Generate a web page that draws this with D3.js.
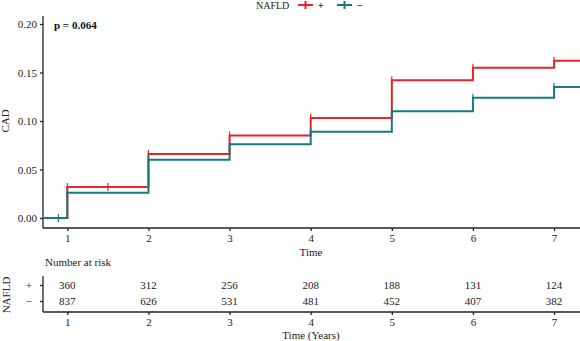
<!DOCTYPE html>
<html>
<head>
<meta charset="utf-8">
<title>CAD cumulative incidence</title>
<style>
	body { margin: 0; background: #fff; }
	svg { display: block; font-family: "Liberation Serif", "DejaVu Serif", serif; }
</style>
</head>
<body>
<svg id="chart" width="580" height="341"></svg>
<script src="https://cdn.jsdelivr.net/npm/d3@7"></script>
<script>
// step curves: time of each step and cumulative incidence after it
const timesPos = [0.7, 1, 2, 3, 4, 5, 6, 7];
const cadPos   = [0, 0.032, 0.066, 0.085, 0.103, 0.142, 0.155, 0.162];
const timesNeg = [0.7, 1, 2, 3, 4, 5, 6, 7];
const cadNeg   = [0, 0.026, 0.060, 0.076, 0.089, 0.110, 0.124, 0.135];
// censor marks
const censorPos = [1, 1.5, 2, 3, 4, 5, 6, 7];
const censorNeg = [0.89, 1, 2, 3, 4, 5, 6, 7];
// number at risk
const riskTimes = [1, 2, 3, 4, 5, 6, 7];
const riskPos = [360, 312, 256, 208, 188, 131, 124];
const riskNeg = [837, 626, 531, 481, 452, 407, 382];
const yTicks = [0, 0.05, 0.1, 0.15, 0.2];

const svg = d3.select("#chart");
const red = "#e2262c", teal = "#177b7b";

const x = d3.scaleLinear().domain([0.7, 7.32]).range([43, 580]);
const y = d3.scaleLinear().domain([0, 0.2]).range([218, 24]);
const tEnd = 7.32;

function stepFor(ts, vs) {
	let pts = ts.map((t, i) => [t, vs[i]]);
	pts.push([tEnd, vs[vs.length - 1]]);
	return pts;
}
function valueAt(ts, vs, t) {
	let v = vs[0];
	ts.forEach((tt, i) => { if (tt <= t) v = vs[i]; });
	return v;
}

const line = d3.line().x(d => x(d[0])).y(d => y(d[1])).curve(d3.curveStepAfter);

// axes
const xAxis = d3.axisBottom(x).tickValues(riskTimes).tickFormat(d3.format("d")).tickSize(3).tickPadding(3);
const yAxis = d3.axisLeft(y).tickValues(yTicks).tickFormat(d3.format(".2f")).tickSize(3).tickPadding(3);

function styleAxis(g) {
	g.selectAll("text").attr("font-size", 11).attr("fill", "#222").attr("font-family", "Liberation Serif");
	g.select(".domain").attr("stroke", "#222").attr("stroke-width", 1.3);
	g.selectAll(".tick line").attr("stroke", "#222").attr("stroke-width", 1.3);
}

const gx = svg.append("g").attr("transform", "translate(0,228)").call(xAxis);
const gy = svg.append("g").attr("transform", "translate(43,0)").call(yAxis);
styleAxis(gx); styleAxis(gy);
gy.select(".domain").attr("d", "M0,16V228");
gx.select(".domain").attr("d", "M43,0H580");

svg.append("text").attr("x", 311).attr("y", 256).attr("text-anchor", "middle")
	.attr("font-size", 11).attr("fill", "#222").text("Time");
svg.append("text").attr("transform", "translate(9,121) rotate(-90)").attr("text-anchor", "middle")
	.attr("font-size", 11).attr("fill", "#222").text("CAD");
svg.append("text").attr("x", 54).attr("y", 29).attr("font-size", 11).attr("font-weight", "bold")
	.attr("fill", "#111").text("p = 0.064");

// curves
const series = [
	{ ts: timesPos, vs: cadPos, cens: censorPos, color: red },
	{ ts: timesNeg, vs: cadNeg, cens: censorNeg, color: teal }
];
series.forEach(s => {
	svg.append("path").attr("d", line(stepFor(s.ts, s.vs)))
		.attr("fill", "none").attr("stroke", s.color).attr("stroke-width", 2);
	svg.append("g").selectAll("path").data(s.cens).enter().append("path")
		.attr("d", t => {
			const cx = x(t), cy = y(valueAt(s.ts, s.vs, t));
			return `M${cx},${cy - 4}V${cy + 4}`;
		})
		.attr("stroke", s.color).attr("stroke-width", 1.2);
});

// legend
const lg = svg.append("g").attr("font-size", 10).attr("fill", "#222");
lg.append("text").attr("x", 256).attr("y", 9).text("NAFLD");
[[298, red, "+"], [337, teal, "\u2212"]].forEach(([lx, c, lab]) => {
	lg.append("path").attr("d", `M${lx},5H${lx + 15}M${lx + 7.5},1V9`).attr("stroke", c).attr("stroke-width", 2);
	lg.append("text").attr("x", lx + 20).attr("y", 9).attr("font-weight", "bold").text(lab);
});

// risk table
svg.append("text").attr("x", 45).attr("y", 266).attr("font-size", 11).attr("fill", "#222").text("Number at risk");
const rowY = d3.scalePoint().domain(["+", "\u2212"]).range([285, 301]);
const rows = [["+", riskPos], ["\u2212", riskNeg]];
rows.forEach(([lab, vals]) => {
	svg.append("g").selectAll("text").data(vals).enter().append("text")
		.attr("x", (d, i) => x(riskTimes[i])).attr("y", rowY(lab) + 4)
		.attr("text-anchor", "middle").attr("font-size", 11).attr("fill", "#222")
		.text(d => d);
});
const ry = d3.axisLeft(rowY).tickSize(3).tickPadding(8);
const gry = svg.append("g").attr("transform", "translate(43,0)").call(ry);
styleAxis(gry);
gry.select(".domain").attr("d", "M0,276V312");

const grx = svg.append("g").attr("transform", "translate(0,312)").call(xAxis);
styleAxis(grx);
grx.select(".domain").attr("d", "M43,0H580");

svg.append("text").attr("x", 311).attr("y", 339).attr("text-anchor", "middle")
	.attr("font-size", 11).attr("fill", "#222").text("Time (Years)");
svg.append("text").attr("transform", "translate(10,295) rotate(-90)").attr("text-anchor", "middle")
	.attr("font-size", 11).attr("fill", "#222").text("NAFLD");
</script>
</body>
</html>
